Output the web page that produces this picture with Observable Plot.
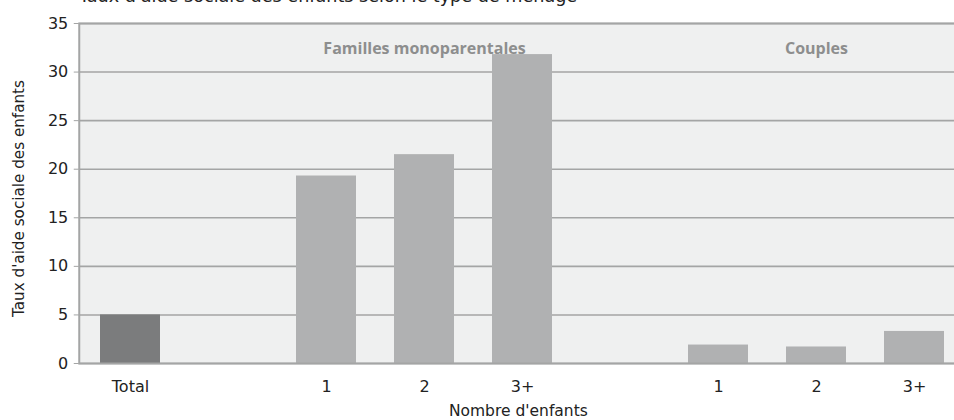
<!DOCTYPE html>
<html>
<head>
<meta charset="utf-8">
<script src="https://cdn.jsdelivr.net/npm/d3@7"></script>
<script src="https://cdn.jsdelivr.net/npm/@observablehq/plot@0.6"></script>
<style>
  html, body { margin: 0; padding: 0; background: #fff; overflow: hidden; }
  #chart { position: relative; width: 954px; height: 420px; overflow: hidden; font-family: "DejaVu Sans", sans-serif; }
  #title { position: absolute; left: 79px; top: -13px; font-size: 17.6px; line-height: 19px; color: #222; white-space: nowrap; }
  #chart svg { max-width: none !important; display: block; }
</style>
</head>
<body>
<div id="chart"><div id="title">Taux d'aide sociale des enfants selon le type de ménage</div></div>
<script>
// Band slots along the x axis (empty slots separate the household groups)
const slotKeys = ["total", "gap-1", "mono-1", "mono-2", "mono-3", "gap-2", "couple-1", "couple-2", "couple-3"];
const slotLabels = ["Total", "", "1", "2", "3+", "", "1", "2", "3+"];

// Child social-assistance rate (%)
const totalKey = "total";
const totalValue = 5.0;
const monoKeys = ["mono-1", "mono-2", "mono-3"];
const monoValues = [19.3, 21.5, 31.8];
const coupleKeys = ["couple-1", "couple-2", "couple-3"];
const coupleValues = [1.9, 1.7, 3.3];

// Group headings, centred over the middle bar of each group
const groupKeys = ["mono-2", "couple-2"];
const groupNames = ["Familles monoparentales", "Couples"];

const yTicks = [0, 5, 10, 15, 20, 25, 30, 35];

const labelOf = new Map(slotKeys.map((k, i) => [k, slotLabels[i]]));
const totalBar = [{key: totalKey, value: totalValue}];
const otherBars = [
  ...monoKeys.map((k, i) => ({key: k, value: monoValues[i]})),
  ...coupleKeys.map((k, i) => ({key: k, value: coupleValues[i]}))
];
const groups = groupKeys.map((k, i) => ({key: k, name: groupNames[i]}));

const gridColor = "#a4a5a5";

// The plot area runs slightly past the right edge of the page and is clipped there
const chart = Plot.plot({
  width: 965,
  height: 420,
  marginTop: 23,
  marginBottom: 57,
  marginLeft: 78.75,
  marginRight: 0,
  style: {fontFamily: "DejaVu Sans, sans-serif", fontSize: "16px", color: "#222", background: "transparent"},
  x: {domain: slotKeys, paddingInner: 0.39, paddingOuter: 0.195, align: 0.5},
  y: {domain: [0, 35]},
  marks: [
    Plot.frame({fill: "#eff0f0"}),
    Plot.ruleY(yTicks, {stroke: gridColor, strokeWidth: 1.6}),
    Plot.barY(otherBars, {x: "key", y: "value", fill: "#b0b1b2"}),
    Plot.barY(totalBar, {x: "key", y: "value", fill: "#7b7c7d"}),
    Plot.frame({stroke: gridColor, strokeWidth: 2}),
    Plot.axisY({ticks: yTicks, tickSize: 5, tickPadding: 6, stroke: gridColor, label: null, fontSize: 16}),
    Plot.axisX({tickSize: 0, tickPadding: 17, tickFormat: k => labelOf.get(k), label: null, fontSize: 16}),
    Plot.text(groups, {x: "key", frameAnchor: "top", dy: 19, text: "name", fill: "#8d8e8e", fontWeight: "bold", fontSize: 16, fontFamily: "Open Sans, sans-serif"}),
    Plot.text(["Nombre d'enfants"], {frameAnchor: "bottom", lineAnchor: "middle", dy: 48, dx: -4, text: d => d, fontSize: 15.5, fill: "#222"}),
    Plot.text(["Taux d'aide sociale des enfants"], {frameAnchor: "left", textAnchor: "middle", lineAnchor: "middle", dx: -59.75, dy: 5, rotate: -90, text: d => d, fontSize: 15.2, fill: "#222"})
  ]
});

document.getElementById("chart").appendChild(chart);
</script>
</body>
</html>
